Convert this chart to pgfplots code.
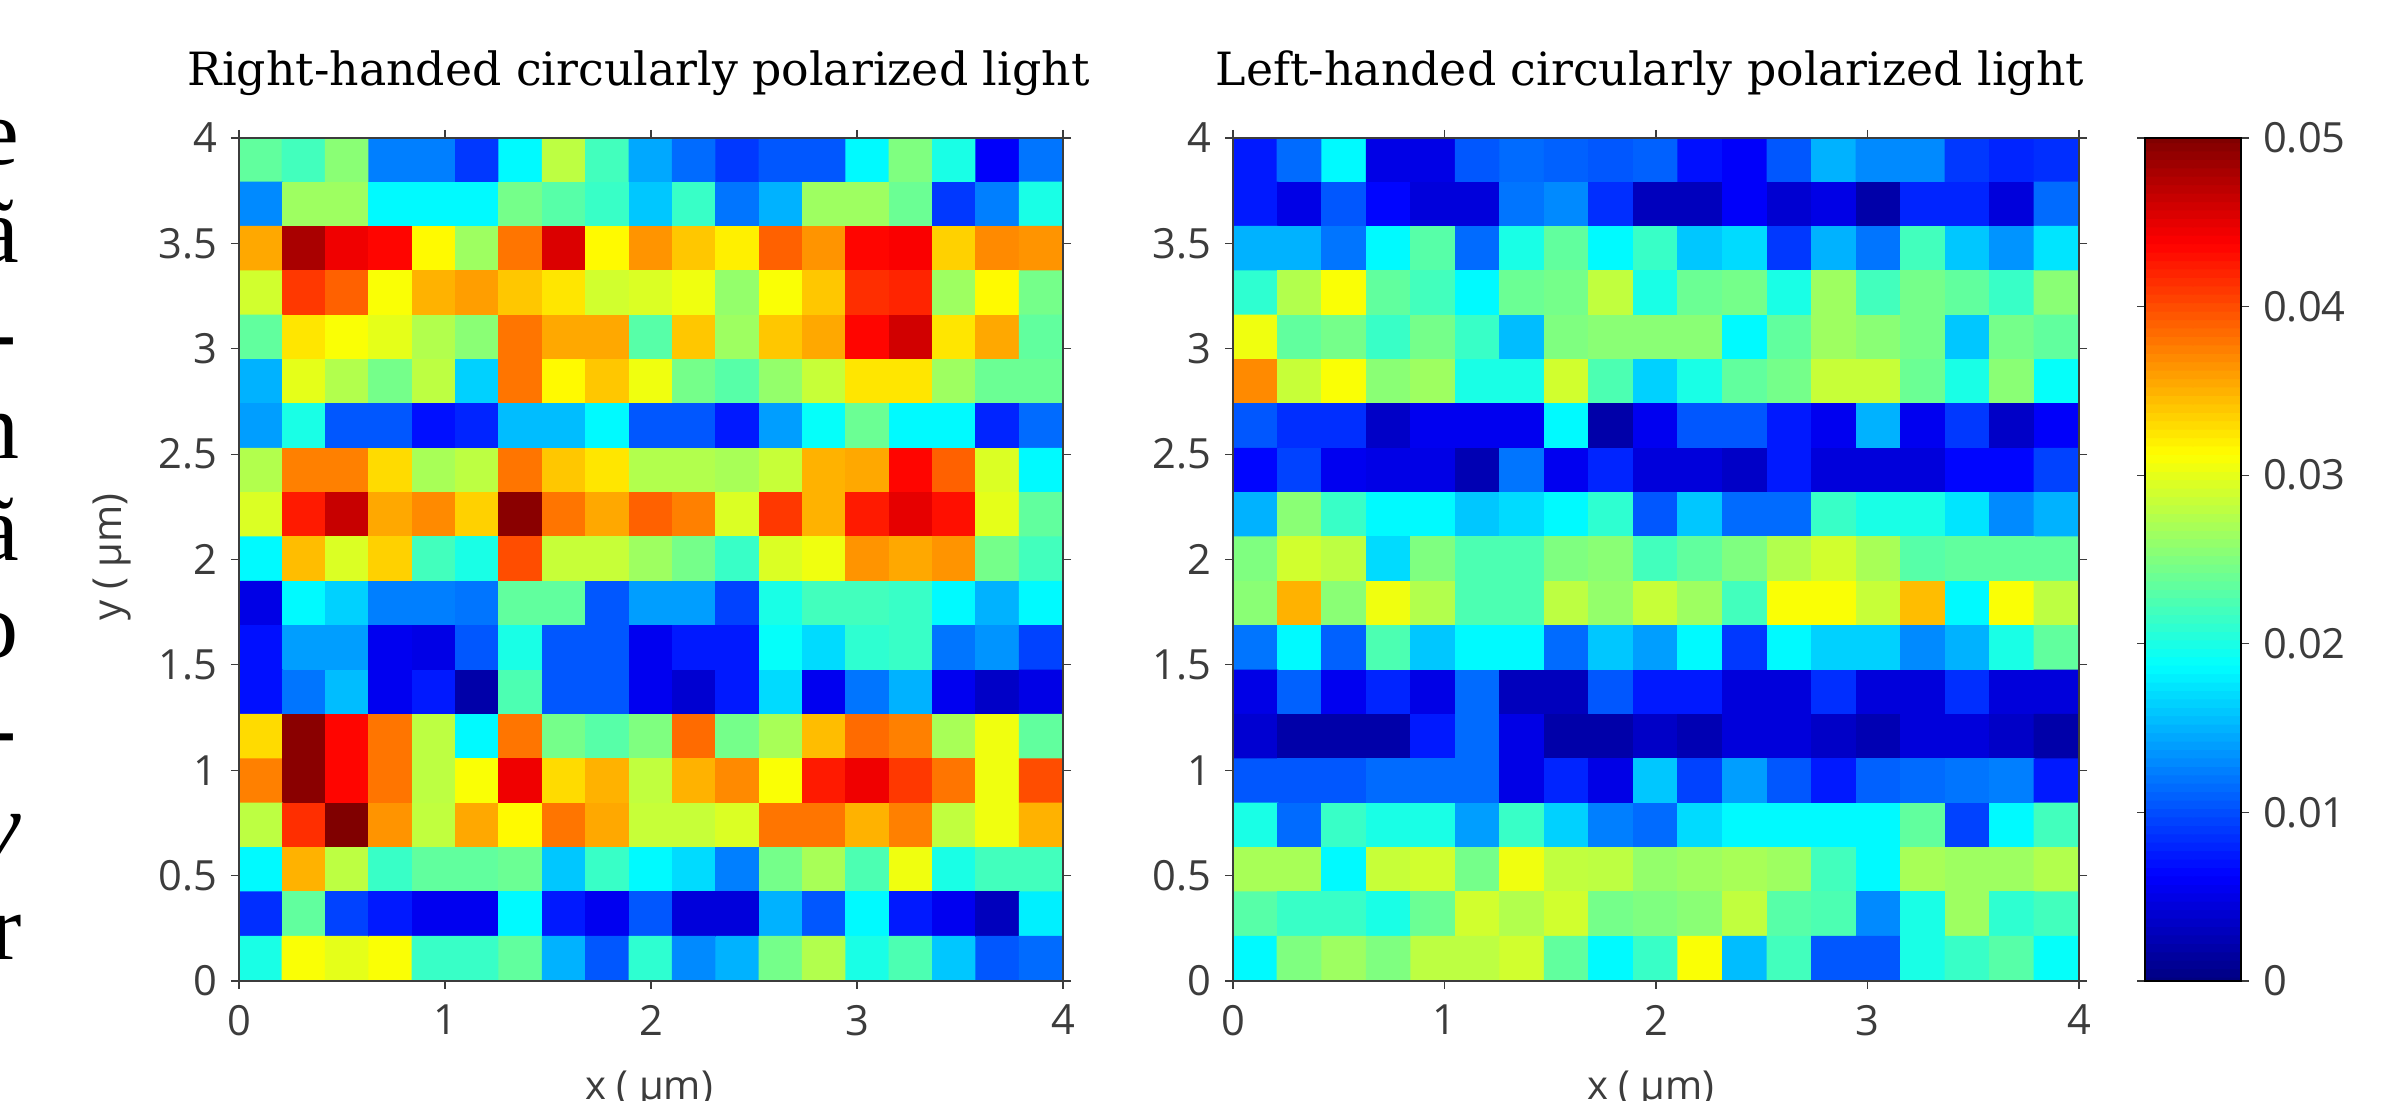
\documentclass[border=0pt]{standalone}
\usepackage{pgfplots}
\pgfplotsset{compat=1.18}
\usepackage{fontspec}
\setmainfont{Open Sans}
\newfontfamily\serifb{Liberation Serif}
\newfontfamily\serift{DejaVu Serif}
\definecolor{tk}{HTML}{3C3C3C}
\pgfplotsset{panel/.style={
  scale only axis, anchor=south west,
  height=210.75pt,
  xmin=0,xmax=4,ymin=0,ymax=4,
  colormap/jet, point meta min=0, point meta max=0.05,
  xtick={0,1,2,3,4}, xticklabels={0,1,2,3,4},
  ytick={0,0.5,1,1.5,2,2.5,3,3.5,4}, yticklabels={0,0.5,1,1.5,2,2.5,3,3.5,4},
  tick align=outside, tick pos=both, xticklabel pos=bottom, yticklabel pos=left,
  major tick length=2pt, tick style={color=tk,line width=0.3pt},
  axis line style={color=tk,line width=0.3pt},
  tick label style={font=\fontsize{10.4}{11}\selectfont, text=tk},
  xticklabel style={yshift=-0.5pt},
  label style={font=\fontsize{10}{11}\selectfont, text=tk},
  title style={font=\fontsize{11.45}{13}\serift\selectfont, text=black, anchor=center},
  /pgf/number format/assume math mode=true,
  axis on top,
}}
\pgfplotsset{cells/.style={matrix plot*, mesh/cols=19, mesh/rows=19, point meta=explicit, draw=none}}
\begin{document}
\begin{tikzpicture}
\useasboundingbox (0,0) rectangle (600.25pt,275.25pt);
\clip (0,0) rectangle (600.25pt,275.25pt);
\foreach \l/\x/\y in {e/5/234,ã/4.9/209.5,-/4.3/184.25,n/5.1/160.5,ã/4.9/135,o/4.8/110.75,-/4.3/85.25,\itshape v/5.6/60.75,r/5.6/35.25}{
  \node[anchor=base east,inner sep=0pt,text=black] at (\x pt,\y pt) {\fontsize{23.5}{24}\serifb\selectfont \l};
}
\begin{axis}[panel, at={(59.75pt,30pt)}, width=206pt,
  title={Right-handed circularly polarized light},
  title style={at={(axis description cs:0.485,1.048)}},
  xlabel={x ( µm)}, ylabel={y ( µm)},
  xlabel style={at={(axis description cs:0.498,-0.14)},anchor=base},
  ylabel style={at={(axis description cs:-0.154,0.503)},anchor=center},
]
\addplot[cells] table[row sep=\\, header=false, meta index=0,
  x expr={(\coordindex+0.5-19*floor((\coordindex+0.5)/19))*4/19}, y expr={4-(floor((\coordindex+0.5)/19)+0.5)*4/19}] {
.0235\\.022\\.0255\\.0125\\.0125\\.009\\.0185\\.028\\.022\\.0145\\.0115\\.009\\.0105\\.0105\\.0185\\.025\\.020\\.006\\.012\\
.013\\.0265\\.0265\\.0185\\.0185\\.0185\\.0245\\.023\\.0215\\.016\\.0215\\.012\\.015\\.0265\\.0265\\.024\\.009\\.0125\\.020\\
.0355\\.048\\.0445\\.0435\\.0315\\.0265\\.038\\.0455\\.0315\\.0365\\.034\\.032\\.039\\.0365\\.0435\\.044\\.0335\\.037\\.0365\\
.029\\.041\\.039\\.031\\.035\\.036\\.034\\.0325\\.029\\.0295\\.0305\\.026\\.031\\.034\\.0415\\.042\\.0265\\.0315\\.0245\\
.0235\\.0325\\.031\\.030\\.0275\\.0255\\.038\\.0355\\.0355\\.023\\.034\\.0265\\.034\\.0355\\.0435\\.046\\.0325\\.0355\\.0235\\
.015\\.030\\.0275\\.0245\\.028\\.0165\\.038\\.0315\\.034\\.0305\\.0245\\.023\\.026\\.0285\\.0325\\.0325\\.0265\\.024\\.024\\
.014\\.020\\.0105\\.0105\\.007\\.008\\.0155\\.0155\\.0185\\.0105\\.0105\\.0075\\.014\\.019\\.024\\.0185\\.0185\\.008\\.0115\\
.0275\\.0375\\.0375\\.033\\.027\\.028\\.038\\.034\\.0325\\.0275\\.0275\\.027\\.0285\\.035\\.0355\\.0435\\.039\\.0295\\.0185\\
.0295\\.0425\\.0465\\.0355\\.037\\.0335\\.0495\\.038\\.0355\\.039\\.0375\\.0295\\.041\\.035\\.0425\\.045\\.043\\.030\\.0235\\
.0185\\.0345\\.0295\\.0335\\.022\\.020\\.040\\.0285\\.0285\\.0265\\.0245\\.0215\\.0295\\.0305\\.0365\\.0355\\.0365\\.0245\\.022\\
.005\\.0185\\.0165\\.0125\\.0125\\.012\\.0235\\.0235\\.0105\\.014\\.014\\.0095\\.020\\.022\\.022\\.0215\\.0185\\.015\\.0185\\
.007\\.014\\.014\\.0055\\.005\\.0105\\.020\\.0105\\.0105\\.0055\\.0075\\.0075\\.019\\.017\\.021\\.0215\\.012\\.0135\\.0095\\
.007\\.012\\.0155\\.0055\\.0075\\.002\\.0225\\.0105\\.0105\\.0055\\.004\\.0075\\.017\\.0055\\.012\\.015\\.0055\\.0035\\.005\\
.033\\.0495\\.0435\\.038\\.028\\.0185\\.038\\.0245\\.023\\.025\\.0385\\.0245\\.027\\.0345\\.0385\\.0375\\.027\\.0305\\.0235\\
.0375\\.0495\\.0435\\.038\\.028\\.031\\.0445\\.033\\.035\\.0282\\.035\\.037\\.031\\.0425\\.0445\\.041\\.038\\.0305\\.040\\
.028\\.0415\\.050\\.0365\\.0282\\.0355\\.0315\\.038\\.0355\\.0285\\.0285\\.0295\\.038\\.038\\.035\\.0375\\.0282\\.0305\\.035\\
.0185\\.035\\.028\\.0215\\.0235\\.0235\\.024\\.016\\.0215\\.0185\\.017\\.0125\\.0245\\.027\\.0225\\.0305\\.020\\.022\\.022\\
.0085\\.0235\\.0095\\.0075\\.0055\\.0055\\.0185\\.0075\\.0055\\.0105\\.0045\\.0045\\.015\\.0105\\.0185\\.0075\\.0055\\.003\\.018\\
.020\\.031\\.030\\.031\\.0215\\.0215\\.0235\\.015\\.0105\\.021\\.013\\.015\\.0245\\.0275\\.020\\.0225\\.016\\.0105\\.0115\\
};
\end{axis}
\begin{axis}[panel, at={(308.25pt,30pt)}, width=211.5pt,
  title={Left-handed circularly polarized light},
  title style={at={(axis description cs:0.493,1.048)}},
  xlabel={x ( µm)},
  xlabel style={at={(axis description cs:0.494,-0.14)},anchor=base},
]
\addplot[cells] table[row sep=\\, header=false, meta index=0,
  x expr={(\coordindex+0.5-19*floor((\coordindex+0.5)/19))*4/19}, y expr={4-(floor((\coordindex+0.5)/19)+0.5)*4/19}] {
.0075\\.0115\\.0185\\.005\\.005\\.0105\\.0115\\.011\\.0105\\.011\\.007\\.006\\.0105\\.015\\.013\\.013\\.009\\.008\\.0085\\
.0075\\.005\\.0105\\.0065\\.0045\\.0045\\.012\\.013\\.0085\\.003\\.003\\.006\\.004\\.005\\.002\\.008\\.008\\.0045\\.0115\\
.015\\.015\\.012\\.0185\\.023\\.0115\\.020\\.0235\\.0185\\.0215\\.016\\.017\\.009\\.015\\.012\\.022\\.016\\.0135\\.0175\\
.021\\.0275\\.031\\.0235\\.022\\.0185\\.024\\.0245\\.0282\\.020\\.024\\.0245\\.020\\.0265\\.022\\.0245\\.0235\\.0215\\.0255\\
.0305\\.0235\\.0245\\.0215\\.0245\\.0215\\.0155\\.025\\.0255\\.0255\\.0255\\.0185\\.0235\\.0265\\.0255\\.0245\\.016\\.0245\\.0235\\
.037\\.0285\\.031\\.0255\\.0265\\.020\\.020\\.029\\.0225\\.0165\\.020\\.0235\\.0245\\.0285\\.0285\\.024\\.020\\.0255\\.019\\
.0105\\.0085\\.0085\\.0035\\.0055\\.0055\\.0055\\.0185\\.002\\.0055\\.0105\\.0105\\.0075\\.0055\\.015\\.0055\\.009\\.0035\\.006\\
.0065\\.0095\\.0055\\.005\\.005\\.0025\\.012\\.0055\\.008\\.0045\\.0045\\.0035\\.0075\\.0045\\.0045\\.0045\\.0065\\.0065\\.0095\\
.015\\.0255\\.0215\\.0185\\.0185\\.016\\.017\\.0185\\.021\\.0105\\.016\\.0115\\.0115\\.0215\\.020\\.020\\.0175\\.013\\.015\\
.025\\.029\\.028\\.017\\.025\\.0225\\.0225\\.025\\.0255\\.022\\.0235\\.025\\.0275\\.029\\.027\\.023\\.0235\\.0235\\.0235\\
.0255\\.035\\.0255\\.0305\\.0275\\.0225\\.0225\\.028\\.026\\.0285\\.0265\\.022\\.031\\.031\\.0285\\.0345\\.0185\\.031\\.028\\
.012\\.0185\\.011\\.0225\\.016\\.0185\\.0185\\.0115\\.016\\.014\\.0185\\.009\\.0185\\.0165\\.0165\\.013\\.015\\.020\\.0235\\
.005\\.011\\.0055\\.008\\.005\\.0115\\.003\\.003\\.0105\\.0075\\.0075\\.0045\\.0045\\.0085\\.0045\\.0045\\.0085\\.0045\\.0045\\
.004\\.002\\.002\\.002\\.0075\\.0115\\.005\\.002\\.002\\.0035\\.0025\\.0045\\.0045\\.0035\\.0025\\.0045\\.0045\\.0035\\.002\\
.0105\\.0105\\.0105\\.0115\\.0115\\.0115\\.005\\.008\\.005\\.016\\.0095\\.014\\.0105\\.0075\\.011\\.0115\\.012\\.0125\\.0075\\
.020\\.0115\\.0215\\.020\\.020\\.014\\.0215\\.0165\\.0125\\.0115\\.017\\.0185\\.0185\\.0185\\.0185\\.0235\\.0095\\.0185\\.022\\
.027\\.027\\.0185\\.0285\\.029\\.0245\\.0305\\.0282\\.028\\.026\\.0265\\.027\\.0265\\.022\\.0185\\.027\\.0265\\.0265\\.0275\\
.023\\.0215\\.0215\\.020\\.024\\.029\\.0275\\.029\\.0245\\.025\\.0255\\.0282\\.023\\.0225\\.013\\.020\\.0265\\.021\\.022\\
.0185\\.025\\.0265\\.025\\.028\\.028\\.029\\.0235\\.0185\\.0215\\.031\\.0155\\.022\\.0105\\.0105\\.020\\.0215\\.023\\.019\\
};
\end{axis}
% colour scale drawn as an axis of its own
\begin{axis}[
  scale only axis, anchor=south west, at={(536.25pt,30pt)}, width=24pt, height=210.75pt,
  xmin=0,xmax=2,ymin=0,ymax=0.05,
  colormap/jet, point meta min=0, point meta max=0.05,
  xtick=\empty,
  ytick={0,0.01,0.02,0.03,0.04,0.05}, yticklabels={0,0.01,0.02,0.03,0.04,0.05},
  scaled y ticks=false,
  tick align=outside, ytick pos=both, yticklabel pos=right,
  major tick length=2pt, tick style={color=tk,line width=0.3pt},
  axis line style={color=black,line width=0.4pt},
  tick label style={font=\fontsize{10.4}{11}\selectfont, text=tk},
  /pgf/number format/assume math mode=true,
  axis on top,
]
\addplot[matrix plot*, mesh/cols=2, mesh/rows=101, point meta=explicit, draw=none] table[row sep=\\, header=false, y index=0, meta index=0,
  x expr={\coordindex+0.5-2*floor((\coordindex+0.5)/2)+0.5-0.5}] {
0\\0\\.0005\\.0005\\.001\\.001\\.0015\\.0015\\.002\\.002\\.0025\\.0025\\.003\\.003\\.0035\\.0035\\.004\\.004\\.0045\\.0045\\
.005\\.005\\.0055\\.0055\\.006\\.006\\.0065\\.0065\\.007\\.007\\.0075\\.0075\\.008\\.008\\.0085\\.0085\\.009\\.009\\.0095\\.0095\\
.010\\.010\\.0105\\.0105\\.011\\.011\\.0115\\.0115\\.012\\.012\\.0125\\.0125\\.013\\.013\\.0135\\.0135\\.014\\.014\\.0145\\.0145\\
.015\\.015\\.0155\\.0155\\.016\\.016\\.0165\\.0165\\.017\\.017\\.0175\\.0175\\.018\\.018\\.0185\\.0185\\.019\\.019\\.0195\\.0195\\
.020\\.020\\.0205\\.0205\\.021\\.021\\.0215\\.0215\\.022\\.022\\.0225\\.0225\\.023\\.023\\.0235\\.0235\\.024\\.024\\.0245\\.0245\\
.025\\.025\\.0255\\.0255\\.026\\.026\\.0265\\.0265\\.027\\.027\\.0275\\.0275\\.028\\.028\\.0285\\.0285\\.029\\.029\\.0295\\.0295\\
.030\\.030\\.0305\\.0305\\.031\\.031\\.0315\\.0315\\.032\\.032\\.0325\\.0325\\.033\\.033\\.0335\\.0335\\.034\\.034\\.0345\\.0345\\
.035\\.035\\.0355\\.0355\\.036\\.036\\.0365\\.0365\\.037\\.037\\.0375\\.0375\\.038\\.038\\.0385\\.0385\\.039\\.039\\.0395\\.0395\\
.040\\.040\\.0405\\.0405\\.041\\.041\\.0415\\.0415\\.042\\.042\\.0425\\.0425\\.043\\.043\\.0435\\.0435\\.044\\.044\\.0445\\.0445\\
.045\\.045\\.0455\\.0455\\.046\\.046\\.0465\\.0465\\.047\\.047\\.0475\\.0475\\.048\\.048\\.0485\\.0485\\.049\\.049\\.0495\\.0495\\
.050\\.050\\
};
\end{axis}
\end{tikzpicture}
\end{document}
